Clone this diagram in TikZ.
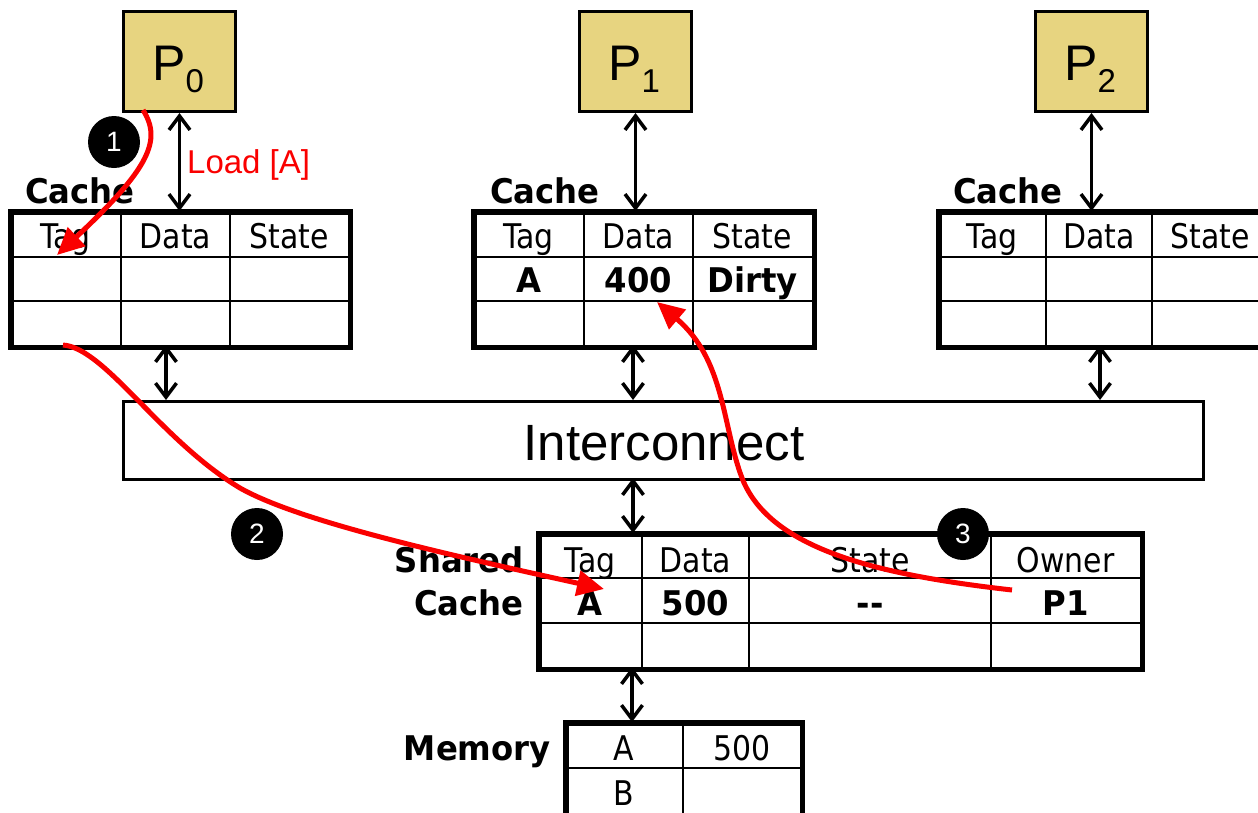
\documentclass[tikz,border=0pt]{standalone}
\usepackage{fontspec}
\usetikzlibrary{arrows.meta}
\newfontfamily\tah{DejaVu Sans}[FakeStretch=0.88]
\newfontfamily\tahb{DejaVu Sans}[FakeStretch=0.95]
\newfontfamily\ari{Liberation Sans}
\definecolor{pfill}{RGB}{231,212,128}
\definecolor{rline}{RGB}{250,0,0}
\tikzset{
  pbox/.style={draw, line width=3pt, fill=pfill, minimum width=112pt, minimum height=100pt, inner sep=0pt, anchor=north west},
  tbl/.style={draw, line width=3.5pt, fill=white, inner sep=0pt, anchor=north west},
  hline/.style={line width=2.5pt},
  vline/.style={line width=1.8pt},
  barrow/.style={line width=3.5pt, {Straight Barb[length=14pt,width=21pt,line width=3.5pt]}-{Straight Barb[length=14pt,width=21pt,line width=3.5pt]}},
  rarrow/.style={rline, line width=5pt, -{Triangle[length=27pt,width=25pt]}},
  num/.style={circle, fill=black, minimum size=52pt, inner sep=0pt, text=white, font=\ari\fontsize{28}{28}\selectfont},
  hdr/.style={anchor=base, inner sep=0pt, font=\tah\fontsize{34}{34}\selectfont},
  bld/.style={anchor=base, inner sep=0pt, font=\tahb\bfseries\fontsize{34}{34}\selectfont},
  lbl/.style={inner sep=0pt, font=\tahb\bfseries\fontsize{34}{34}\selectfont},
  ptext/.style={anchor=base, inner sep=0pt, font=\ari\fontsize{50}{50}\selectfont},
}
\newcommand{\Psub}[1]{P\raisebox{-12pt}{\fontsize{33}{33}\selectfont #1}}
\begin{document}
\begin{tikzpicture}[x=1pt,y=-1pt]
\useasboundingbox (0,0) rectangle (1258,812);
% processors
\node[pbox] (p0) at (122,10) {};
\node[pbox] (p1) at (578,10) {};
\node[pbox] (p2) at (1034,10) {};
\node[ptext] (p0t) at (178,80) {\Psub{0}};
\node[ptext] (p1t) at (634,80) {\Psub{1}};
\node[ptext] (p2t) at (1090,80) {\Psub{2}};
% caches
\node[tbl, minimum width=338pt, minimum height=134pt] (c0) at (10,211) {};
\node[tbl, minimum width=339pt, minimum height=134pt] (c1) at (473,211) {};
\node[tbl, minimum width=330pt, minimum height=134pt] (c2) at (938,211) {};
\foreach \c/\a/\b in {c0/111/220, c1/111/220, c2/108/214}{
  \draw[hline] (\c.north west) ++(0,46) -- ++(340,0);
  \draw[hline] (\c.north west) ++(0,90) -- ++(340,0);
  \draw[vline] (\c.north west) ++(\a,0) -- ++(0,134);
  \draw[vline] (\c.north west) ++(\b,0) -- ++(0,134);
}
\draw[line width=3.5pt] (c0.north west) rectangle (c0.south east);
\draw[line width=3.5pt] (c1.north west) rectangle (c1.south east);
\draw[line width=3.5pt] (c2.north west) rectangle (c2.south east);
\node[lbl, anchor=base west] (l0) at (25,203) {Cache};
\node[lbl, anchor=base west] (l1) at (490,203) {Cache};
\node[lbl, anchor=base west] (l2) at (953,203) {Cache};
% cache texts
\node[hdr] (c0h1) at (65.5,248) {Tag};
\node[hdr] (c0h2) at (175.5,248) {Data};
\node[hdr] (c0h3) at (289,248) {State};
\node[hdr] (c1h1) at (528.5,248) {Tag};
\node[hdr] (c1h2) at (638.5,248) {Data};
\node[hdr] (c1h3) at (752.5,248) {State};
\node[hdr] (c2h1) at (992,248) {Tag};
\node[hdr] (c2h2) at (1099,248) {Data};
\node[hdr] (c2h3) at (1210,248) {State};
\node[bld] (c1d1) at (528.5,292) {A};
\node[bld] (c1d2) at (638.5,292) {400};
\node[bld] (c1d3) at (752.5,292) {Dirty};
% interconnect
\node[draw, line width=3pt, fill=white, minimum width=1080pt, minimum height=78pt, inner sep=0pt, anchor=north west] (ic) at (122,400) {};
\node[anchor=base, inner sep=0pt, font=\ari\fontsize{51}{51}\selectfont] (ict) at (664,460) {Interconnect};
% shared cache
\node[tbl, minimum width=602pt, minimum height=134pt] (sc) at (538,533) {};
\draw[hline] (sc.north west) ++(0,45) -- ++(602,0);
\draw[hline] (sc.north west) ++(0,90) -- ++(602,0);
\foreach \a in {104,211,453}{
  \draw[vline] (sc.north west) ++(\a,0) -- ++(0,134);
}
\draw[line width=3.5pt] (sc.north west) rectangle (sc.south east);
\node[lbl, anchor=base east] (sl1) at (524,572) {Shared};
\node[lbl, anchor=base east] (sl2) at (524,615) {Cache};
\node[hdr] (sh1) at (590,572) {Tag};
\node[hdr] (sh2) at (695.5,572) {Data};
\node[hdr] (sh3) at (870,572) {State};
\node[hdr] (sh4) at (1065.5,572) {Owner};
\node[bld] (sd1) at (590,615) {A};
\node[bld] (sd2) at (695.5,615) {500};
\node[bld] (sd3) at (870,615) {--};
\node[bld] (sd4) at (1065.5,615) {P1};
% memory
\node[tbl, minimum width=235pt, minimum height=92pt] (mem) at (565,722) {};
\draw[hline] (mem.north west) ++(0,46) -- ++(235,0);
\draw[vline] (mem.north west) ++(118,0) -- ++(0,92);
\draw[line width=3.5pt] (mem.north west) rectangle (mem.south east);
\node[lbl, anchor=base east] (ml) at (551,760) {Memory};
\node[hdr] (m1) at (624,760) {A};
\node[hdr] (m2) at (742,760) {500};
\node[hdr] (m3) at (624,805) {B};
% black arrows
\draw[barrow] (p0.south) -- (p0.south |- c0.north);
\draw[barrow] (p1.south) -- (p1.south |- c1.north);
\draw[barrow] (p2.south) -- (p2.south |- c2.north);
\coordinate (a0) at (166,345);
\coordinate (a1) at (633,345);
\coordinate (a2) at (1100,345);
\draw[barrow] (a0) -- (a0 |- ic.north);
\draw[barrow] (a1) -- (a1 |- ic.north);
\draw[barrow] (a2) -- (a2 |- ic.north);
\coordinate (a3) at (633,478);
\draw[barrow] (a3) -- (a3 |- sc.north);
\coordinate (a4) at (632,667);
\draw[barrow] (a4) -- (a4 |- mem.north);
% load label
\node[anchor=base west, inner sep=0pt, text=rline, font=\ari\fontsize{33}{33}\selectfont] (load) at (187,173) {Load [A]};
% numbered circles
\node[num] (n1) at (114,142) {1};
\node[num] (n2) at (257,534) {2};
% red arrows
\coordinate (r1s) at (143,110);
\coordinate (r1e) at (57,255);
\draw[rarrow] (r1s) .. controls (162,140) and (150,168) .. (r1e);
\coordinate (r2s) at (63,345);
\coordinate (r2m) at (240,488);
\coordinate (r2e) at (604,589);
\draw[rarrow] (r2s) .. controls (105,348) and (160,440) .. (r2m) .. controls (300,522) and (450,555) .. (r2e);
\coordinate (r3s) at (1012,590);
\coordinate (r3m) at (742,478);
\coordinate (r3e) at (657,302);
\draw[rarrow] (r3s) .. controls (880,575) and (770,550) .. (r3m) .. controls (722,425) and (725,360) .. (r3e);
\node[num] (n3) at (963,534) {3};
\end{tikzpicture}
\end{document}
